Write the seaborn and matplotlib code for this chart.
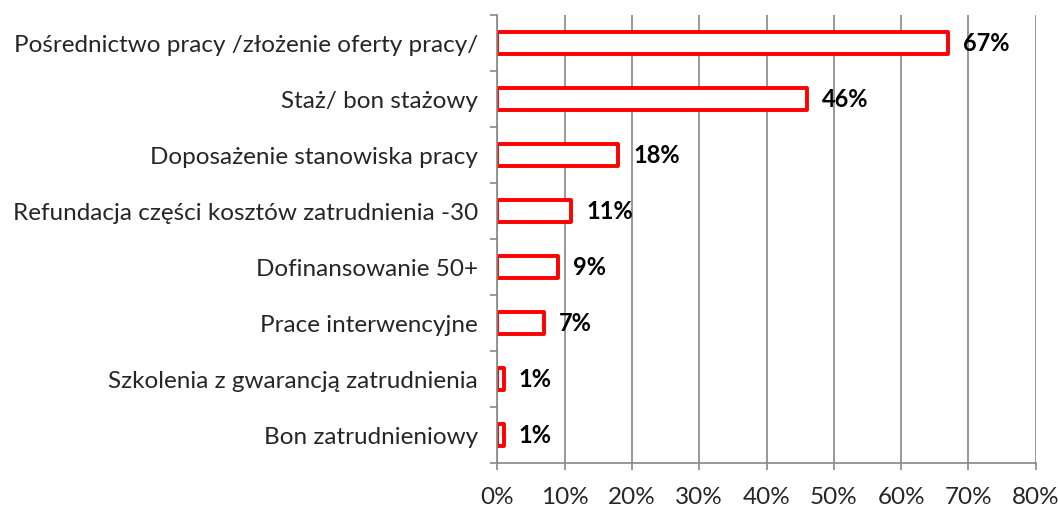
import seaborn as sns
import matplotlib.pyplot as plt
from matplotlib.ticker import FixedLocator, PercentFormatter

# Dane
categories = [
    'Pośrednictwo pracy /złożenie oferty pracy/',
    'Staż/ bon stażowy',
    'Doposażenie stanowiska pracy',
    'Refundacja części kosztów zatrudnienia -30',
    'Dofinansowanie 50+',
    'Prace interwencyjne',
    'Szkolenia z gwarancją zatrudnienia',
    'Bon zatrudnieniowy',
]
values = [67, 46, 18, 11, 9, 7, 1, 1]
labels = ['67%', '46%', '18%', '11%', '9%', '7%', '1%', '1%']

sns.set_style('white')
plt.rcParams['font.family'] = ['Lato', 'DejaVu Sans']

fig = plt.figure(figsize=(10.58, 5.08), dpi=100)
ax = fig.add_axes([0.470, 0.088, 0.509, 0.882])

sns.barplot(x=values, y=categories, orient='h', color='white',
            edgecolor='#ff0000', linewidth=2.8, width=0.4, saturation=1, ax=ax)
for p in ax.patches:
    p.set_joinstyle('round')

for i, (v, lab) in enumerate(zip(values, labels)):
    ax.text(v + 2.2, i, lab, va='center', ha='left', fontsize=17,
            fontweight='bold', color='black')

grey = '#868686'
ax.set_xlim(0, 80)
ax.set_ylim(len(categories) - 0.5, -0.5)
ax.set_xticks(range(0, 81, 10))
ax.xaxis.set_major_formatter(PercentFormatter(decimals=0))
ax.grid(axis='x', color=grey, linewidth=1.2)
ax.set_axisbelow(True)

ax.yaxis.set_minor_locator(FixedLocator([i - 0.5 for i in range(len(categories) + 1)]))
ax.tick_params(axis='y', which='major', length=0, pad=14, labelsize=17.5)
ax.tick_params(axis='y', which='minor', left=True, length=5, color=grey, width=1.2)
ax.tick_params(axis='x', which='major', bottom=True, length=5, color=grey,
               width=1.2, pad=12, labelsize=17.5)

for side in ['top', 'right']:
    ax.spines[side].set_visible(False)
for side in ['left', 'bottom']:
    ax.spines[side].set_color(grey)
    ax.spines[side].set_linewidth(1.2)

ax.set_xlabel('')
ax.set_ylabel('')

plt.savefig('out.png', dpi=100)
